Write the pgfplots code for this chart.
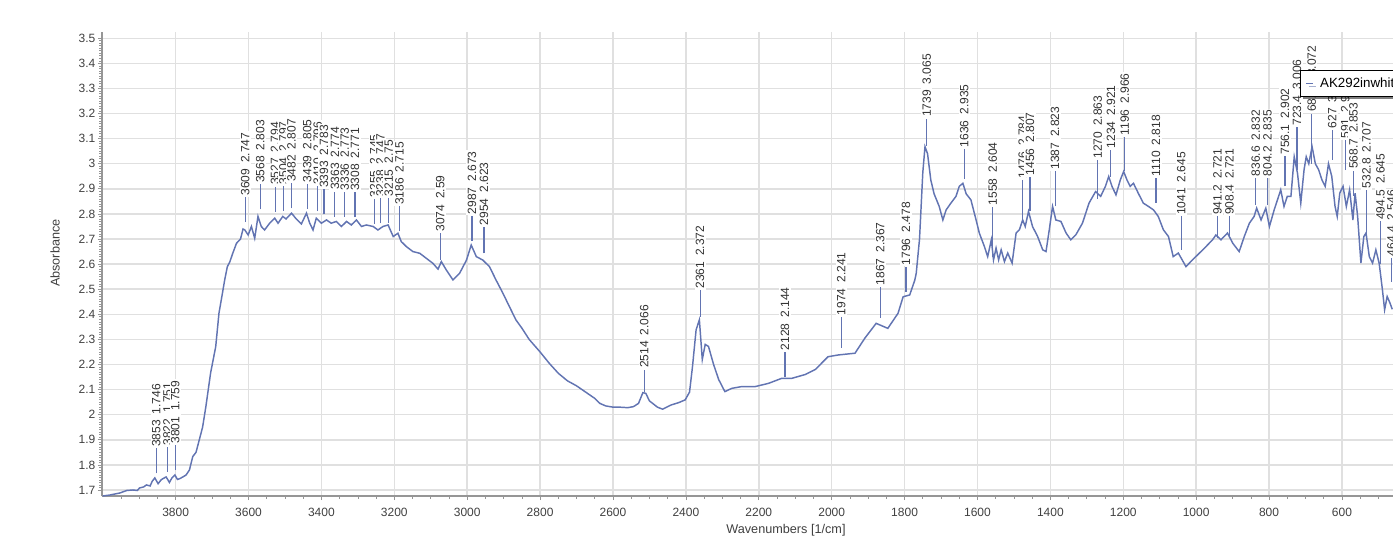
\documentclass[border=0pt]{standalone}
\usepackage{pgfplots}
\usepackage{pgfplotstable}
\pgfplotsset{compat=1.18}
\usepackage{fontspec}
\setmainfont{Liberation Sans}
\usetikzlibrary{shadows}
\definecolor{spec}{RGB}{98,116,178}
\definecolor{gridc}{RGB}{224,224,224}
\definecolor{axisc}{RGB}{150,150,150}
\definecolor{txt}{RGB}{64,64,64}
\definecolor{lbl}{RGB}{50,50,50}

\pgfplotstableread{
wn A
4000 1.676
3980 1.680
3953 1.688
3934 1.698
3917 1.700
3905 1.698
3899 1.708
3888 1.712
3880 1.720
3870 1.716
3864 1.735
3857 1.748
3848 1.725
3840 1.740
3835 1.745
3826 1.752
3817 1.730
3810 1.748
3802 1.760
3795 1.742
3789 1.745
3780 1.752
3771 1.760
3762 1.780
3753 1.833
3744 1.850
3735 1.900
3726 1.950
3717 2.032
3704 2.166
3690 2.271
3681 2.405
3672 2.480
3665 2.540
3658 2.590
3651 2.610
3644 2.640
3633 2.683
3622 2.700
3615 2.740
3610 2.736
3601 2.716
3592 2.750
3583 2.703
3574 2.790
3565 2.750
3556 2.736
3542 2.763
3528 2.783
3519 2.763
3506 2.790
3497 2.780
3482 2.803
3469 2.780
3455 2.760
3441 2.803
3432 2.763
3423 2.736
3414 2.783
3400 2.763
3386 2.776
3373 2.763
3359 2.770
3345 2.750
3331 2.770
3318 2.756
3304 2.776
3290 2.750
3277 2.756
3258 2.750
3245 2.736
3231 2.750
3217 2.756
3203 2.710
3190 2.723
3181 2.690
3167 2.670
3149 2.650
3130 2.643
3112 2.623
3094 2.603
3080 2.580
3071 2.610
3057 2.576
3039 2.537
3021 2.563
3002 2.616
2989 2.676
2975 2.630
2957 2.616
2939 2.590
2921 2.537
2902 2.484
2884 2.430
2866 2.377
2850 2.345
2830 2.300
2800 2.250
2775 2.205
2750 2.165
2725 2.135
2700 2.115
2675 2.090
2650 2.065
2636 2.045
2620 2.035
2600 2.030
2581 2.030
2560 2.028
2544 2.032
2530 2.045
2518 2.088
2510 2.085
2500 2.055
2478 2.030
2464 2.022
2442 2.038
2420 2.048
2402 2.059
2390 2.090
2382 2.190
2372 2.338
2363 2.378
2355 2.220
2347 2.280
2338 2.272
2324 2.200
2310 2.140
2293 2.092
2274 2.105
2247 2.112
2210 2.112
2173 2.125
2137 2.145
2109 2.145
2073 2.160
2045 2.180
2010 2.231
1982 2.238
1936 2.245
1909 2.305
1878 2.364
1846 2.344
1818 2.404
1804 2.470
1786 2.477
1772 2.536
1768 2.564
1759 2.700
1750 2.965
1744 3.068
1737 3.040
1728 2.935
1719 2.880
1705 2.830
1695 2.776
1686 2.816
1673 2.843
1659 2.870
1650 2.910
1640 2.922
1631 2.880
1618 2.856
1604 2.777
1595 2.724
1581 2.670
1572 2.630
1562 2.697
1556 2.617
1549 2.664
1542 2.617
1535 2.657
1526 2.610
1517 2.644
1505 2.604
1494 2.724
1485 2.737
1476 2.776
1469 2.750
1460 2.810
1449 2.750
1435 2.710
1421 2.657
1412 2.650
1403 2.737
1394 2.830
1385 2.776
1371 2.770
1357 2.724
1344 2.697
1330 2.717
1312 2.763
1294 2.843
1276 2.889
1262 2.870
1249 2.910
1240 2.949
1231 2.910
1220 2.876
1208 2.936
1199 2.969
1190 2.936
1181 2.910
1172 2.922
1159 2.883
1145 2.843
1131 2.830
1117 2.816
1104 2.790
1090 2.737
1076 2.710
1063 2.630
1049 2.644
1028 2.590
1010 2.617
991 2.644
973 2.670
955 2.697
946 2.716
932 2.697
914 2.724
900 2.684
882 2.650
868 2.710
854 2.763
841 2.790
834 2.823
822 2.776
809 2.823
799 2.750
786 2.816
777 2.856
768 2.896
759 2.830
750 2.870
740 2.870
731 3.028
722 2.962
713 2.843
704 2.976
698 3.028
691 3.000
682 3.068
673 3.000
664 2.976
655 2.936
646 2.910
637 3.000
628 2.950
619 2.830
613 2.790
606 2.883
597 2.910
588 2.830
579 2.896
570 2.776
564 2.883
557 2.790
548 2.604
540 2.710
534 2.724
525 2.630
516 2.604
507 2.657
498 2.604
489 2.498
483 2.418
476 2.471
468 2.444
462 2.420
}\spectrum

\pgfplotstableread[col sep=comma]{
wn,ylo,yhi,lab
3853,1.766,1.866,3853\enskip 1.746
3822,1.771,1.871,3822\enskip 1.751
3801,1.779,1.879,3801\enskip 1.759
3609,2.767,2.867,3609\enskip 2.747
3568,2.818,2.918,3568\enskip 2.803
3527,2.809,2.909,3527\enskip 2.794
3504,2.812,2.912,3504\enskip 2.797
3482,2.822,2.922,3482\enskip 2.807
3439,2.820,2.920,3439\enskip 2.805
3410,2.811,2.911,3410\enskip 2.796
3393,2.798,2.898,3393\enskip 2.783
3363,2.789,2.889,3363\enskip 2.774
3336,2.788,2.888,3336\enskip 2.773
3308,2.786,2.886,3308\enskip 2.771
3255,2.760,2.860,3255\enskip 2.745
3238,2.762,2.862,3238\enskip 2.747
3215,2.765,2.865,3215\enskip 2.75
3186,2.730,2.830,3186\enskip 2.715
3074,2.617,2.724,3074\enskip 2.59
2987,2.693,2.793,2987\enskip 2.673
2954,2.643,2.749,2954\enskip 2.623
2514,2.090,2.180,2514\enskip 2.066
2361,2.390,2.497,2361\enskip 2.372
2128,2.152,2.251,2128\enskip 2.144
1974,2.266,2.390,1974\enskip 2.241
1867,2.385,2.510,1867\enskip 2.367
1796,2.490,2.590,1796\enskip 2.478
1739,3.070,3.180,1739\enskip 3.065
1636,2.940,3.060,1636\enskip 2.935
1558,2.628,2.828,1558\enskip 2.604
1476,2.780,2.935,1476\enskip 2.784
1456,2.810,2.948,1456\enskip 2.807
1387,2.830,2.970,1387\enskip 2.823
1270,2.860,3.015,1270\enskip 2.863
1234,2.948,3.055,1234\enskip 2.921
1196,2.970,3.107,1196\enskip 2.966
1110,2.844,2.944,1110\enskip 2.818
1041,2.657,2.790,1041\enskip 2.645
941.2,2.705,2.790,941.2\enskip 2.721
908.4,2.710,2.790,908.4\enskip 2.721
836.6,2.835,2.944,836.6\enskip 2.832
804.2,2.835,2.944,804.2\enskip 2.835
756.1,2.910,3.030,756.1\enskip 2.902
723.4,2.975,3.146,723.4\enskip 3.006
682.9,3.000,3.200,682.9\enskip 3.072
627,3.015,3.135,627\enskip 3.021
591,2.975,3.094,591\enskip 2.91
568.7,2.873,2.973,568.7\enskip 2.853
532.8,2.715,2.896,532.8\enskip 2.707
494.5,2.600,2.770,494.5\enskip 2.645
464.4,2.530,2.625,464.4\enskip 2.546
}\peaks

\begin{document}
\begin{tikzpicture}
\path[use as bounding box] (0,0) rectangle (1044.75pt,408pt);
\begin{axis}[
  at={(76.5pt,36pt)}, anchor=south west,
  scale only axis, width=968.25pt, height=348.2pt,
  x dir=reverse, xmin=460, xmax=4002, ymin=1.676, ymax=3.526,
  xtick={600,800,1000,1200,1400,1600,1800,2000,2200,2400,2600,2800,3000,3200,3400,3600,3800},
  minor xtick={500,550,650,700,750,850,900,950,1050,1100,1150,1250,1300,1350,1450,1500,1550,1650,1700,1750,1850,1900,1950,2050,2100,2150,2250,2300,2350,2450,2500,2550,2650,2700,2750,2850,2900,2950,3050,3100,3150,3250,3300,3350,3450,3500,3550,3650,3700,3750,3850,3900,3950},
  ytick={1.7,1.8,1.9,2,2.1,2.2,2.3,2.4,2.5,2.6,2.7,2.8,2.9,3,3.1,3.2,3.3,3.4,3.5},
  minor y tick num=9,
  grid=major, major grid style={gridc, line width=1.1pt},
  axis x line*=bottom, axis y line*=left,
  axis line style={axisc, line width=0.8pt},
  tick style={axisc, line width=0.5pt},
  tick align=outside,
  major tick length=3pt, minor tick length=2pt,
  ticklabel style={font=\fontsize{9}{10}\selectfont, text=txt, /pgf/number format/assume math mode=true, /pgf/number format/1000 sep={}},
  xticklabel style={yshift=-2.5pt},
  yticklabel style={xshift=1.5pt},
  xlabel={Wavenumbers [1/cm]}, ylabel={Absorbance},
  label style={font=\fontsize{9.5}{11}\selectfont, text=txt},
  xlabel style={at={(axis description cs:0.5298,-0.0732)}, anchor=center},
  ylabel style={at={(axis description cs:-0.0364,0.523)}, anchor=center},
  legend style={at={(axis description cs:0.9279,0.9175)}, anchor=north west, draw=black, fill=white, line width=0.6pt,
    font=\fontsize{10}{11}\selectfont, inner xsep=4pt, inner ysep=2.5pt,
    nodes={inner xsep=5pt, inner ysep=3pt},
    drop shadow={shadow xshift=2pt, shadow yshift=-2pt, fill=black}},
  legend image code/.code={\draw[#1, line width=0.9pt] (0pt,0pt) -- (5pt,0pt);},
]
\addplot[spec, line width=1.1pt] table[x=wn, y=A] {\spectrum};
\addlegendentry{AK292inwhite}
\addplot[spec, line width=0.9pt, quiver={u=0, v=\thisrow{yhi}-\thisrow{ylo}}, forget plot] table[x=wn, y=ylo] {\peaks};
\addplot[draw=none, forget plot, nodes near coords, point meta=explicit symbolic,
  every node near coord/.style={rotate=90, anchor=west, font=\fontsize{9}{10}\selectfont, fill=white, inner sep=1pt, text=lbl}]
  table[x=wn, y=yhi, meta=lab] {\peaks};
\end{axis}
\end{tikzpicture}
\end{document}
